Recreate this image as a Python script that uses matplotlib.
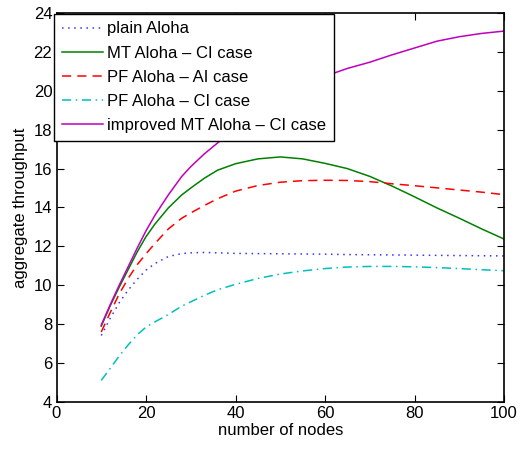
import matplotlib
matplotlib.use("Agg")
import matplotlib.pyplot as plt

plt.rcParams['font.family'] = ['Liberation Sans', 'DejaVu Sans']

nodes = [10, 12, 14, 16, 18, 20, 22, 25, 28, 30, 33, 36, 40, 45, 50,
         55, 60, 65, 70, 75, 80, 85, 90, 95, 100]

plain_aloha = [7.42, 8.3, 9.1, 9.75, 10.3, 10.78, 11.12, 11.48, 11.63, 11.67,
               11.69, 11.67, 11.64, 11.63, 11.62, 11.61, 11.6, 11.58, 11.57,
               11.56, 11.55, 11.54, 11.53, 11.52, 11.51]

mt_aloha_ci = [7.9, 8.95, 9.9, 10.8, 11.7, 12.5, 13.15, 13.98, 14.65, 15.0,
               15.5, 15.92, 16.25, 16.5, 16.6, 16.5, 16.27, 16.0, 15.6, 15.1,
               14.55, 13.98, 13.45, 12.9, 12.38]

pf_aloha_ai = [7.6, 8.6, 9.55, 10.35, 11.05, 11.62, 12.15, 12.9, 13.45, 13.72,
               14.1, 14.45, 14.84, 15.13, 15.3, 15.38, 15.4, 15.39, 15.33,
               15.22, 15.12, 15.01, 14.9, 14.79, 14.66]

pf_aloha_ci = [5.11, 5.73, 6.36, 6.93, 7.45, 7.85, 8.12, 8.5, 8.93, 9.15,
               9.48, 9.77, 10.05, 10.35, 10.58, 10.74, 10.86, 10.94, 10.97,
               10.97, 10.95, 10.91, 10.86, 10.8, 10.75]

improved_mt_ci = [7.95, 9.0, 10.0, 10.95, 11.9, 12.8, 13.6, 14.65, 15.6, 16.1,
                  16.75, 17.32, 18.05, 18.85, 19.55, 20.2, 20.75, 21.15, 21.47,
                  21.85, 22.2, 22.55, 22.78, 22.95, 23.07]

labels = ['plain Aloha', 'MT Aloha \u2013 CI case', 'PF Aloha \u2013 AI case',
          'PF Aloha \u2013 CI case', 'improved MT Aloha \u2013 CI case']

xticks = [0, 20, 40, 60, 80, 100]
yticks = [4, 6, 8, 10, 12, 14, 16, 18, 20, 22, 24]

W, H = 532, 449
fig = plt.figure(figsize=(W / 100, H / 100), dpi=100)
ax = fig.add_axes([56.5 / W, 1 - 402 / H, (504 - 56.5) / W, (402 - 13) / H])

lw = 1.1
ax.plot(nodes, plain_aloha, linestyle=(0, (1, 3)), color='#3333ff', lw=lw, label=labels[0])
ax.plot(nodes, mt_aloha_ci, '-', color='#008000', lw=lw, label=labels[1])
ax.plot(nodes, pf_aloha_ai, linestyle=(0, (6, 4)), color='#ff0000', lw=lw, label=labels[2])
ax.plot(nodes, pf_aloha_ci, linestyle=(0, (6, 3, 1, 3)), color='#00bfbf', lw=lw, label=labels[3])
ax.plot(nodes, improved_mt_ci, '-', color='#bf00bf', lw=lw, label=labels[4])

ax.set_xlim(0, 100)
ax.set_ylim(4, 24)
ax.set_xticks(xticks)
ax.set_yticks(yticks)
ax.tick_params(direction='in', length=5, width=0.8, top=True, right=True,
               labelsize=12, pad=3)
for s in ax.spines.values():
    s.set_linewidth(1.2)
ax.set_xlabel('number of nodes', fontsize=12, labelpad=1)
ax.set_ylabel('aggregate throughput', fontsize=12, labelpad=4)

leg = ax.legend(loc='upper left', bbox_to_anchor=(54 / W, 1 - 14 / H),
                bbox_transform=fig.transFigure, fontsize=12, fancybox=False,
                framealpha=1, edgecolor='black', handlelength=2.5,
                handletextpad=0.25, labelspacing=0.55, borderpad=0.45,
                borderaxespad=0)
leg.get_frame().set_linewidth(1.0)

fig.savefig('out.png', dpi=100)
